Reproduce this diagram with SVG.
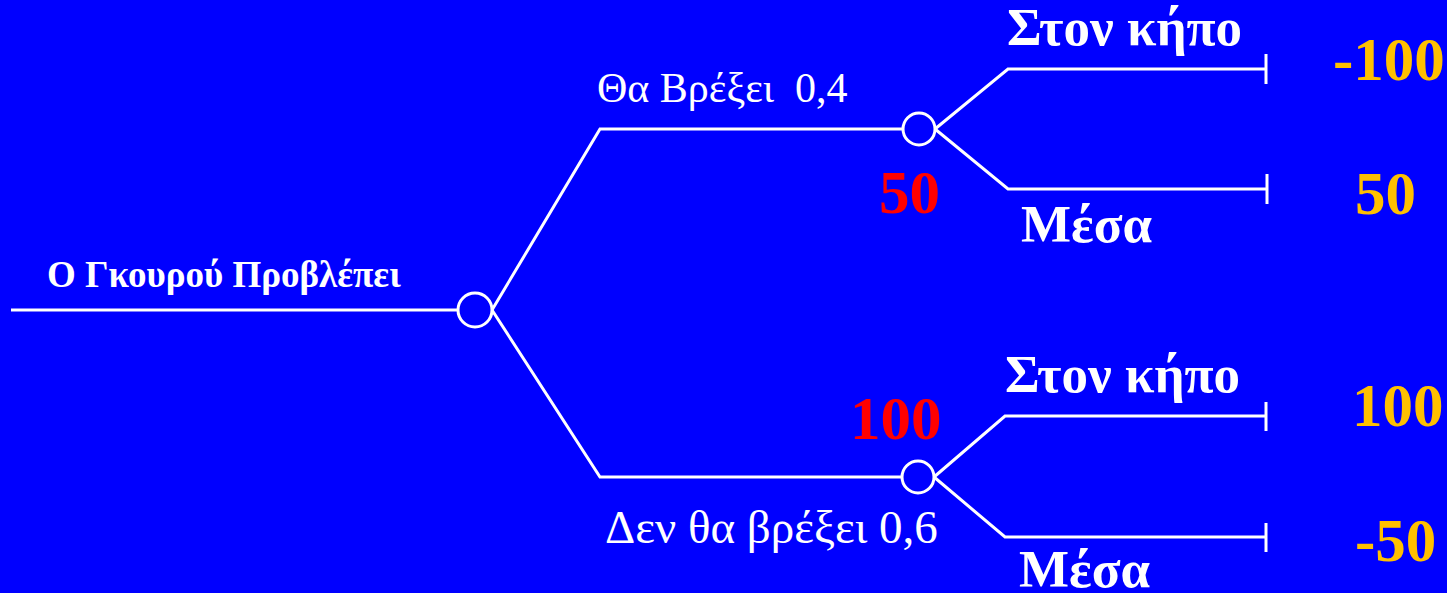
<svg xmlns="http://www.w3.org/2000/svg" width="1447" height="593" viewBox="0 0 1447 593">
<style>
.ln{stroke:#fff;stroke-width:3;fill:none}
.nd{stroke:#fff;stroke-width:3;fill:#0000ff}
text{font-family:"Liberation Serif","Times New Roman",serif}
.w{fill:#fff}
.b{font-weight:bold}
.opt{font-size:53px;font-weight:bold;fill:#fff}
.ev{font-size:61px;font-weight:bold;fill:#ff0000}
.pay{font-size:61px;font-weight:bold;fill:#ffc000}
.pr{fill:#fff}
</style>
<rect width="1447" height="593" fill="#0000ff"/>
<g id="connectors">
<line class="ln" x1="11" y1="310" x2="458" y2="310"/>
<polyline class="ln" points="492,310 600,129 903,129"/>
<polyline class="ln" points="492,310 600,477 902,477"/>
<polyline class="ln" points="935,129 1008,69 1266,69"/>
<polyline class="ln" points="935,129 1008,189 1267,189"/>
<polyline class="ln" points="934,477 1005,416 1266,416"/>
<polyline class="ln" points="934,477 1005,537 1266,537"/>
<line class="ln" x1="1266" y1="54" x2="1266" y2="84"/>
<line class="ln" x1="1267" y1="174" x2="1267" y2="204"/>
<line class="ln" x1="1266" y1="402" x2="1266" y2="431"/>
<line class="ln" x1="1266" y1="523" x2="1266" y2="552"/>
</g>
<g id="root">
<circle class="nd" cx="475" cy="310" r="17"/>
<text class="w b" x="47" y="287" font-size="37">Ο Γκουρού Προβλέπει</text>
</g>
<g id="rain">
<circle class="nd" cx="919" cy="129" r="16"/>
<text class="pr" x="597" y="102" font-size="42" xml:space="preserve">Θα Βρέξει  0,4</text>
<text class="ev" x="879" y="213">50</text>
</g>
<g id="norain">
<circle class="nd" cx="918" cy="477" r="16"/>
<text class="pr" x="605" y="543" font-size="47">Δεν θα βρέξει 0,6</text>
<text class="ev" x="850" y="439">100</text>
</g>
<g id="rain-garden">
<text class="opt" x="1007" y="45">Στον κήπο</text>
<text class="pay" x="1333" y="80">-100</text>
</g>
<g id="rain-inside">
<text class="opt" x="1021" y="242">Μέσα</text>
<text class="pay" x="1355" y="214">50</text>
</g>
<g id="norain-garden">
<text class="opt" x="1005" y="392">Στον κήπο</text>
<text class="pay" x="1352" y="426">100</text>
</g>
<g id="norain-inside">
<text class="opt" x="1019" y="587">Μέσα</text>
<text class="pay" x="1355" y="561">-50</text>
</g>
</svg>
